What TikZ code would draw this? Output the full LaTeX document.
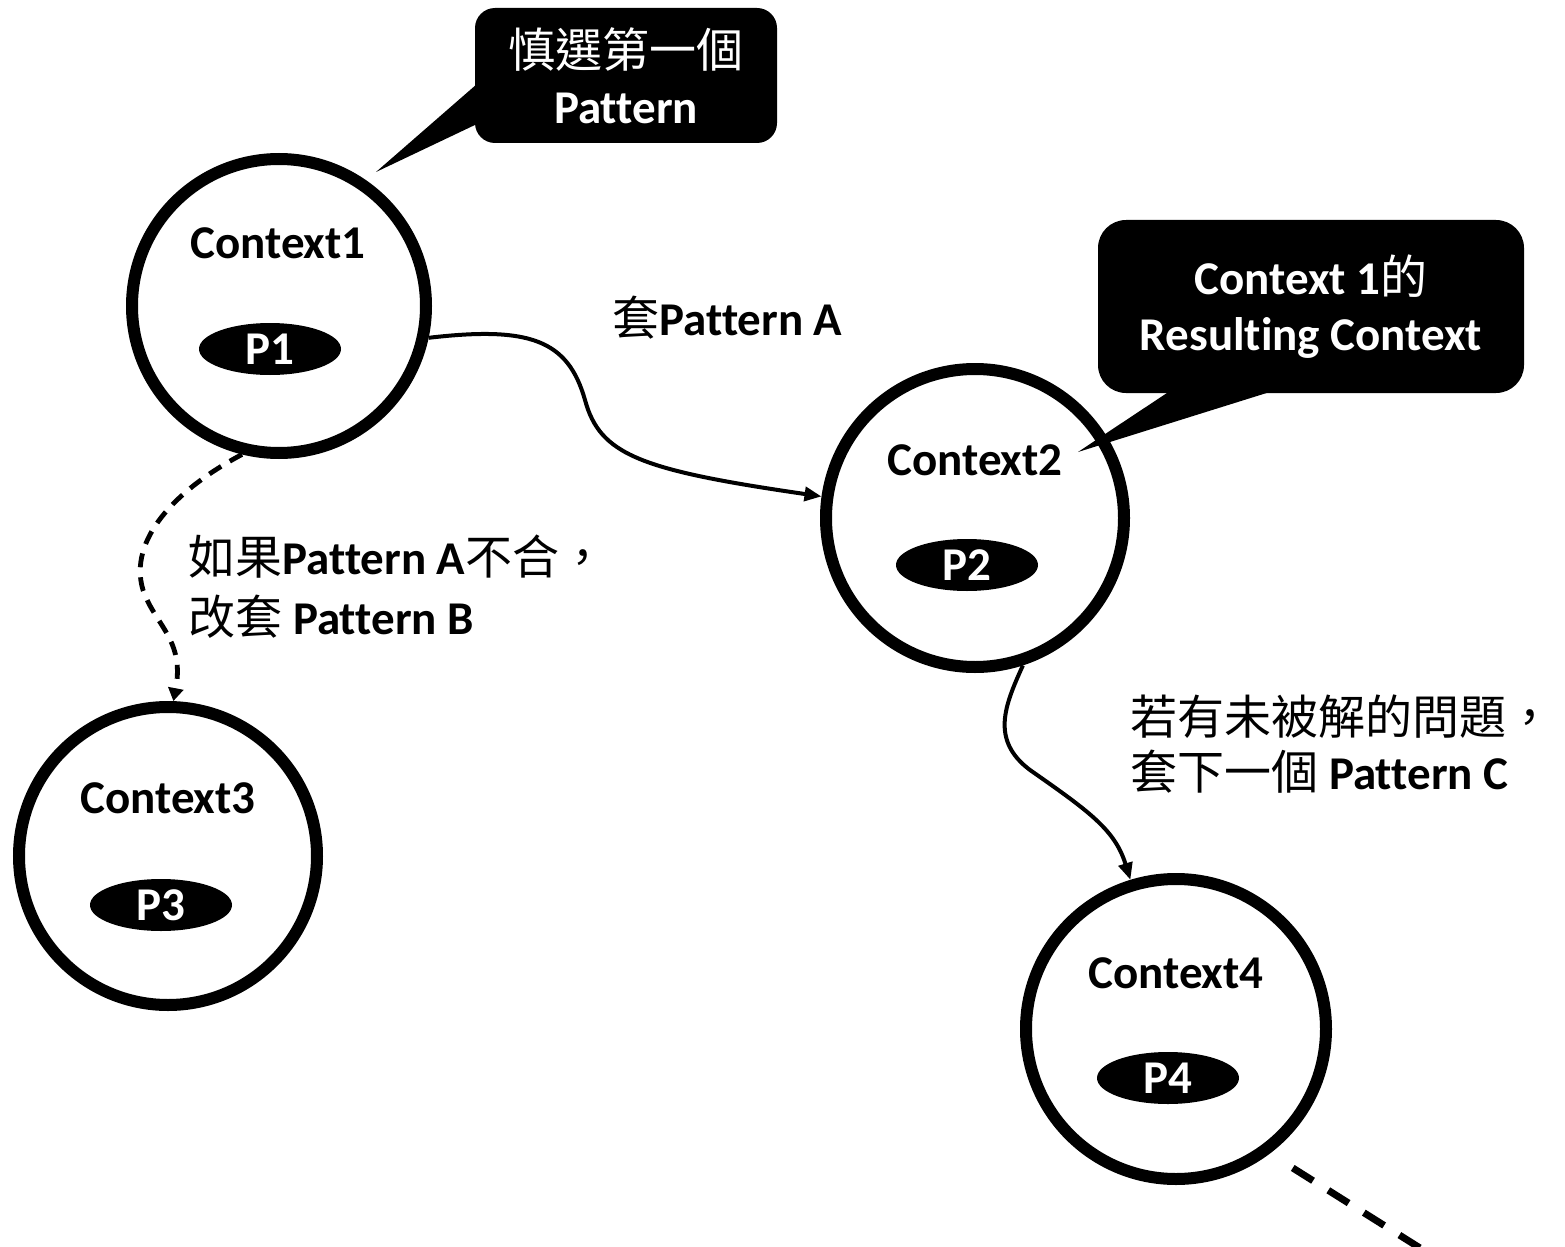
\documentclass[tikz,border=0pt]{standalone}
\usepackage{fontspec}
\setmainfont{Carlito}[Ligatures={NoCommon}]
\newfontfamily\cjkfont{Noto Sans CJK TC}
\usetikzlibrary{arrows.meta,shapes.geometric}
\newcommand\zh[1]{{\cjkfont\mdseries #1}}
\begin{document}
\begin{tikzpicture}[x=0.5pt,y=-0.5pt,
  ctx/.style={circle,draw,line width=6pt,minimum size=#1,inner sep=0pt},
  lbl/.style={font=\fontsize{23.5}{28}\selectfont\bfseries,inner sep=0pt},
  pill/.style={ellipse,fill=black,text=white,minimum width=71pt,minimum height=26pt,inner sep=0pt,font=\fontsize{23.5}{28}\selectfont\bfseries},
  bubble/.style={fill=black,rounded corners=#1,text=white,align=center,inner sep=0pt,font=\fontsize{23.5}{28}\selectfont\bfseries},
  conn/.style={line width=2pt,-{Triangle[length=8.5pt,width=7pt]}},
  dconn/.style={line width=2.4pt,dash pattern=on 7pt off 5pt,-{Triangle[length=6.5pt,width=7.5pt]}},
  bigdash/.style={line width=3.5pt,dash pattern=on 12pt off 9pt}]
\useasboundingbox (0,0) rectangle (1565,1247);

% circles
\node[ctx=147pt] (c1) at (279,306) {};
\node[ctx=149pt] (c2) at (975,518) {};
\node[ctx=149pt] (c3) at (168,856) {};
\node[ctx=150pt] (c4) at (1176,1029) {};

% circle texts
\node[lbl] (t1) at (278,243) {Context1};
\node[lbl] (t2) at (975,460) {Context2};
\node[lbl] (t3) at (168,798) {Context3};
\node[lbl] (t4) at (1176,973) {Context4};

\node[pill] (p1) at (270,349) {P1};
\node[pill] (p2) at (967,565) {P2};
\node[pill] (p3) at (161,905) {P3};
\node[pill] (p4) at (1168,1078) {P4};

% callouts
\node[bubble=10pt,minimum width=151pt,minimum height=67.5pt] (b1) at (626,75.5)
  {\zh{慎選第一個}\\Pattern};
\coordinate (tip1) at (376,172);
\fill (477,84) -- (477,124) -- (tip1) -- cycle;

\node[bubble=14pt,minimum width=213pt,minimum height=86.5pt] (b2) at (1311,306.5)
  {Context 1\zh{的}\\Resulting Context};
\coordinate (tip2) at (1078,452);
\fill (1170,391) -- (1273,391) -- (tip2) -- cycle;

% labels
\node[lbl,anchor=west] (la) at (612,318) {\zh{套}Pattern A};
\node[lbl,anchor=west,align=left,font=\fontsize{23.5}{30}\selectfont\bfseries] (lb) at (188,587)
  {\zh{如果}Pattern A\zh{不合，}\\\zh{改套} Pattern B};
\node[lbl,anchor=west,align=left,font=\fontsize{23.5}{27.5}\selectfont\bfseries] (lc) at (1130,744)
  {\zh{若有未被解的問題，}\\\zh{套下一個} Pattern C};

% connectors
\draw[conn] (c1.-12) .. controls (530,326) and (568,340) .. (585,400)
  .. controls (600,455) and (640,470) .. (c2.172);
\draw[dconn] (c1.-104) .. controls (175,490) and (128,540) .. (143,590)
  .. controls (155,625) and (185,640) .. (c3.88);
\draw[conn] (c2.-72) .. controls (1005,705) and (990,740) .. (1030,770)
  .. controls (1090,812) and (1115,830) .. (c4.107);
\coordinate (e4) at (1420,1248);
\draw[bigdash,shorten <=13.5pt] (c4.-53) -- (e4);
\end{tikzpicture}
\end{document}
